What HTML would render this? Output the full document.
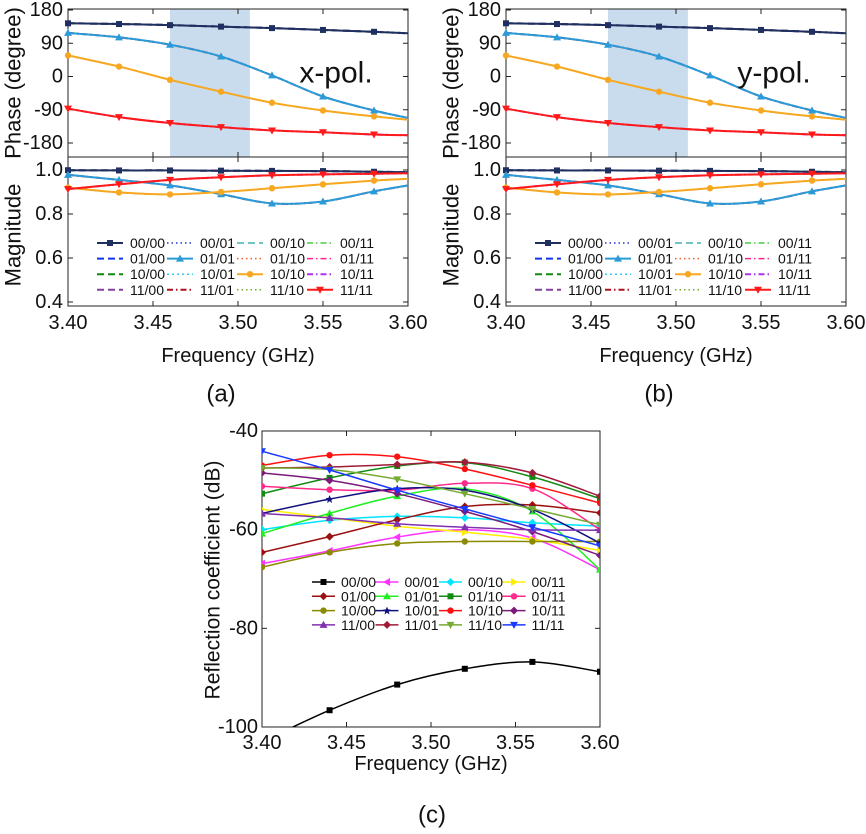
<!DOCTYPE html>
<html><head><meta charset="utf-8"><style>
html,body{margin:0;padding:0;background:#fff}
svg text{font-family:"Liberation Sans",Arial,sans-serif;fill:#111}
</style></head><body>
<svg id="fig" width="866" height="829" viewBox="0 0 866 829" xmlns="http://www.w3.org/2000/svg"></svg>
<script>
// ---------- data: panels (a),(b) ----------
const freqAB = [3.40,3.43,3.46,3.49,3.52,3.55,3.58,3.60];
const phaseG1 = [144,142,139,135,131,126,121,117];
const phaseG2 = [118,106,86,54,3,-54,-92,-112];
const phaseG3 = [57,27,-9,-41,-71,-92,-108,-117];
const phaseG4 = [-87,-110,-126,-137,-146,-151,-157,-159];
const magG1 = [0.999,0.998,0.998,0.997,0.996,0.995,0.992,0.99];
const magG2 = [0.978,0.955,0.93,0.89,0.848,0.857,0.903,0.93];
const magG3 = [0.92,0.898,0.889,0.9,0.917,0.935,0.952,0.96];
const magG4 = [0.913,0.935,0.955,0.967,0.976,0.98,0.983,0.985];
const xTicksAB = [3.40,3.45,3.50,3.55,3.60];
const phaseTicks = [180,90,0,-90,-180];
const magTicks = [1.0,0.8,0.6,0.4];
const bandRange = [3.46,3.507];
const legendNamesAB = ["00/00","00/01","00/10","00/11","01/00","01/01","01/10","01/11","10/00","10/01","10/10","10/11","11/00","11/01","11/10","11/11"];
// ---------- data: panel (c) ----------
const freqC = [3.40,3.44,3.48,3.52,3.56,3.60];
const seriesNamesC = ["00/00","00/01","00/10","00/11","01/00","01/01","01/10","01/11","10/00","10/01","10/10","10/11","11/00","11/01","11/10","11/11"];
const s0000 = [-103,-96.6,-91.4,-88.2,-86.8,-88.8];
const s0001 = [-66.9,-64.3,-61.5,-60,-61.7,-68.1];
const s0010 = [-60,-58.1,-57.3,-57.6,-58.6,-59.3];
const s0011 = [-55.9,-57.6,-59.3,-60.5,-62,-64.2];
const s0100 = [-64.6,-61.4,-58,-55.3,-55,-56.6];
const s0101 = [-60.8,-56.7,-53.2,-51.7,-56.3,-68.1];
const s0110 = [-52.7,-49.5,-47.1,-46.4,-49.3,-53.7];
const s0111 = [-51.2,-51.9,-52,-50.6,-51.7,-60];
const s1000 = [-67.6,-64.6,-62.8,-62.4,-62.4,-62.4];
const s1001 = [-56.7,-53.8,-51.7,-52,-55.9,-62.7];
const s1010 = [-47,-44.9,-45.2,-47.7,-51,-54.6];
const s1011 = [-48.5,-50,-52.7,-56.3,-60.4,-65.2];
const s1100 = [-56.7,-57.6,-58.8,-59.5,-60,-60.1];
const s1101 = [-47.5,-47.3,-46.8,-46.3,-48.5,-53.2];
const s1110 = [-47.5,-47.8,-49.8,-52.7,-55.8,-59];
const s1111 = [-44.1,-47.9,-52,-55.8,-59.5,-63.3];
const xTicksC = [3.40,3.45,3.50,3.55,3.60];
const yTicksC = [-40,-60,-80,-100];

const NS="http://www.w3.org/2000/svg";
const svg=document.getElementById('fig');
function mk(tag,attrs,parent){const e=document.createElementNS(NS,tag);for(const k in attrs)e.setAttribute(k,attrs[k]);(parent||svg).appendChild(e);return e;}
function txt(s,x,y,size,anchor,parent,rot){const t=mk('text',{x:x,y:y,'font-size':size,'text-anchor':anchor||'middle','dominant-baseline':'central'},parent);if(rot)t.setAttribute('transform','rotate(-90 '+x+' '+y+')');t.textContent=s;return t;}
function smooth(P){let d='M'+P[0][0].toFixed(1)+','+P[0][1].toFixed(1);
  for(let i=0;i<P.length-1;i++){const p0=P[Math.max(0,i-1)],p1=P[i],p2=P[i+1],p3=P[Math.min(P.length-1,i+2)];
    const c1=[p1[0]+(p2[0]-p0[0])/6,p1[1]+(p2[1]-p0[1])/6],c2=[p2[0]-(p3[0]-p1[0])/6,p2[1]-(p3[1]-p1[1])/6];
    d+=` C${c1[0].toFixed(1)},${c1[1].toFixed(1)} ${c2[0].toFixed(1)},${c2[1].toFixed(1)} ${p2[0].toFixed(1)},${p2[1].toFixed(1)}`;}
  return d;}
function marker(type,x,y,color,g){
  if(type==='sq') return mk('rect',{x:x-3,y:y-3,width:6,height:6,fill:color},g);
  if(type==='circ') return mk('circle',{cx:x,cy:y,r:3.2,fill:color},g);
  if(type==='tri') return mk('polygon',{points:`${x},${y-4} ${x-4},${y+3} ${x+4},${y+3}`,fill:color},g);
  if(type==='tridn') return mk('polygon',{points:`${x},${y+4} ${x-4},${y-3} ${x+4},${y-3}`,fill:color},g);
  if(type==='dia') return mk('polygon',{points:`${x},${y-4} ${x+4},${y} ${x},${y+4} ${x-4},${y}`,fill:color},g);
  if(type==='star') return mk('polygon',{points:`${x},${y-4} ${x+1.2},${y-1.2} ${x+4},${y-1} ${x+1.8},${y+1} ${x+2.5},${y+4} ${x},${y+2} ${x-2.5},${y+4} ${x-1.8},${y+1} ${x-4},${y-1} ${x-1.2},${y-1.2}`,fill:color},g);
  if(type==='tril') return mk('polygon',{points:`${x-4},${y} ${x+3},${y-4} ${x+3},${y+4}`,fill:color},g);
  if(type==='trir') return mk('polygon',{points:`${x+4},${y} ${x-3},${y-4} ${x-3},${y+4}`,fill:color},g);
}
const styleAB = {
 "00/00":["#1f2f5f","",2,"sq"],"00/01":["#2233cc","1.5,3",1.5,""],"00/10":["#40b0b0","7,4",1.5,""],"00/11":["#44cc44","6,3,1.5,3",1.5,""],
 "01/00":["#1133ee","7,4",2,""],"01/01":["#2a9ad8","",2,"tri"],"01/10":["#f06020","1.5,3",1.5,""],"01/11":["#ff2288","6,3,1.5,3",1.5,""],
 "10/00":["#118811","7,4",2,""],"10/01":["#33ccf0","2,3",1.5,""],"10/10":["#f8a820","",2,"circ"],"10/11":["#b030f0","6,3,1.5,3",2,""],
 "11/00":["#8040a0","7,4",2,""],"11/01":["#b01020","6,3,1.5,3",2,""],"11/10":["#70b030","1.5,3",1.5,""],"11/11":["#ff1a1a","",2,"tridn"]};
const groupOf = n => ["00","01","10","11"].indexOf(n.split('/')[1]);

function panelAB(ox,label,pol){
  const g=mk('g',{},svg);
  
  
  const x0=ox, x1=ox+340, top=9, mid=157, bot=306;
  const X=f=>x0+(f-3.40)/0.2*(x1-x0);
  const YP=p=>10+(180-p)/360*133;
  const YM=m=>170+(1.0-m)/0.6*132;
  const band=mk('rect',{x:X(bandRange[0]),y:top,width:X(bandRange[1])-X(bandRange[0]),height:mid-top,fill:'#c9dcee'},g);
  
  
  mk('rect',{x:x0,y:top,width:x1-x0,height:bot-top,fill:'none',stroke:'#222','stroke-width':1},g);
  mk('line',{x1:x0,y1:mid,x2:x1,y2:mid,stroke:'#222','stroke-width':1},g);
  xTicksAB.forEach(t=>{const x=X(t);
    mk('line',{x1:x,y1:bot,x2:x,y2:bot-5,stroke:'#222'},g);mk('line',{x1:x,y1:mid,x2:x,y2:mid-5,stroke:'#222'},g);
    mk('line',{x1:x,y1:mid,x2:x,y2:mid+5,stroke:'#222'},g);mk('line',{x1:x,y1:top,x2:x,y2:top+5,stroke:'#222'},g);
    const tl=txt(t.toFixed(2),x,323,20,'middle',g);});
  phaseTicks.forEach(t=>{const y=YP(t);mk('line',{x1:x0,y1:y,x2:x0+5,y2:y,stroke:'#222'},g);mk('line',{x1:x1,y1:y,x2:x1-5,y2:y,stroke:'#222'},g);
    const tl=txt(String(t),x0-5,y,20,'end',g);});
  magTicks.forEach(t=>{const y=YM(t);mk('line',{x1:x0,y1:y,x2:x0+5,y2:y,stroke:'#222'},g);mk('line',{x1:x1,y1:y,x2:x1-5,y2:y,stroke:'#222'},g);
    const tl=txt(t.toFixed(1),x0-5,y,20,'end',g);});
  const phases=[phaseG1,phaseG2,phaseG3,phaseG4], mags=[magG1,magG2,magG3,magG4];
  const order=legendNamesAB.slice().sort((a,b)=>(styleAB[a][3]?1:0)-(styleAB[b][3]?1:0));
  order.forEach(n=>{const s=styleAB[n];const gi=groupOf(n);
    [[phases[gi],YP],[mags[gi],YM]].forEach(([arr,Y])=>{
      const P=arr.map((v,i)=>[X(freqAB[i]),Y(v)]);
      const pl=mk('path',{d:smooth(P),fill:'none',stroke:s[0],'stroke-width':s[2],'stroke-dasharray':s[1]},g);
      
      
      if(s[3]) arr.forEach((v,i)=>{if(i<arr.length-1)marker(s[3],X(freqAB[i]),Y(v),s[0],g);});
    });
  });
  const lg=mk('g',{},g);
  
  
  legendNamesAB.forEach((n,i)=>{const col=i%4,row=Math.floor(i/4);const s=styleAB[n];
    const lx=x0+29+col*70, ly=243+row*15.6;
    const e=mk('g',{},lg);
    
    
    mk('line',{x1:lx,y1:ly,x2:lx+26,y2:ly,stroke:s[0],'stroke-width':s[2],'stroke-dasharray':s[1]},e);
    if(s[3])marker(s[3],lx+13,ly,s[0],e);
    txt(n,lx+33,ly,14,'start',e);});
  const pt=txt(pol,x0+268,73,30,'middle',g);
  const yt1=txt('Phase (degree)',ox-55,83,22,'middle',g,true);
  const yt2=txt('Magnitude',ox-55,235,22,'middle',g,true);
  const xt=txt('Frequency (GHz)',(x0+x1)/2,356,20,'middle',g);
  const cap=txt('('+label+')',(x0+x1)/2-17,394,24,'middle',g);
}
panelAB(68,'a','x-pol.');
panelAB(506,'b','y-pol.');

// ---------- panel (c) ----------
(function(){
  const g=mk('g',{},svg);
  
  
  const x0=262,x1=600,top=431,bot=727;
  const X=f=>x0+(f-3.40)/0.2*(x1-x0);
  const Y=d=>top+(-40-d)/60*(bot-top);
  const cp=mk('clipPath',{id:'cc'},g);mk('rect',{x:x0,y:top,width:x1-x0,height:bot-top},cp);
  mk('rect',{x:x0,y:top,width:x1-x0,height:bot-top,fill:'none',stroke:'#222'},g);
  xTicksC.forEach(t=>{const x=X(t);mk('line',{x1:x,y1:bot,x2:x,y2:bot-5,stroke:'#222'},g);mk('line',{x1:x,y1:top,x2:x,y2:top+5,stroke:'#222'},g);
    const tl=txt(t.toFixed(2),x,743,20,'middle',g);});
  yTicksC.forEach(t=>{const y=Y(t);mk('line',{x1:x0,y1:y,x2:x0+5,y2:y,stroke:'#222'},g);mk('line',{x1:x1,y1:y,x2:x1-5,y2:y,stroke:'#222'},g);
    const tl=txt(String(t),x0-4,y,20,'end',g);});
  const vals=[s0000,s0001,s0010,s0011,s0100,s0101,s0110,s0111,s1000,s1001,s1010,s1011,s1100,s1101,s1110,s1111];
  const cols=["#000000","#ff33ff","#00e5ff","#ffee00","#9b1010","#22ee22","#138a13","#ff2a8a","#8a8a00","#10107f","#ff1010","#7a1a7a","#8030b0","#a01a3a","#77aa33","#1a3aff"];
  const mks=["sq","tril","dia","trir","dia","tri","sq","circ","circ","star","circ","dia","tri","dia","tridn","tridn"];
  const cg=mk('g',{'clip-path':'url(#cc)'},g);
  vals.forEach((arr,i)=>{
    const P=arr.map((v,j)=>[X(freqC[j]),Y(v)]);
    const pl=mk('path',{d:smooth(P),fill:'none',stroke:cols[i],'stroke-width':1.5},cg);
    
    
    arr.forEach((v,j)=>marker(mks[i],X(freqC[j]),Y(v),cols[i],cg));
  });
  const lg=mk('g',{},g);
  
  
  seriesNamesC.forEach((n,i)=>{const col=i%4,row=Math.floor(i/4);
    const lx=312+col*63.5, ly=582+row*14.3;
    const e=mk('g',{},lg);
    
    
    mk('line',{x1:lx,y1:ly,x2:lx+23,y2:ly,stroke:cols[i],'stroke-width':1.5},e);
    marker(mks[i],lx+11.5,ly,cols[i],e);
    txt(n,lx+29,ly,14,'start',e);});
  const yt=txt('Reflection coefficient (dB)',213,580,21,'middle',g,true);
  const xt=txt('Frequency (GHz)',431,764,20,'middle',g);
  const cap=txt('(c)',432,815,24,'middle',g);
})();
</script>
</body></html>
